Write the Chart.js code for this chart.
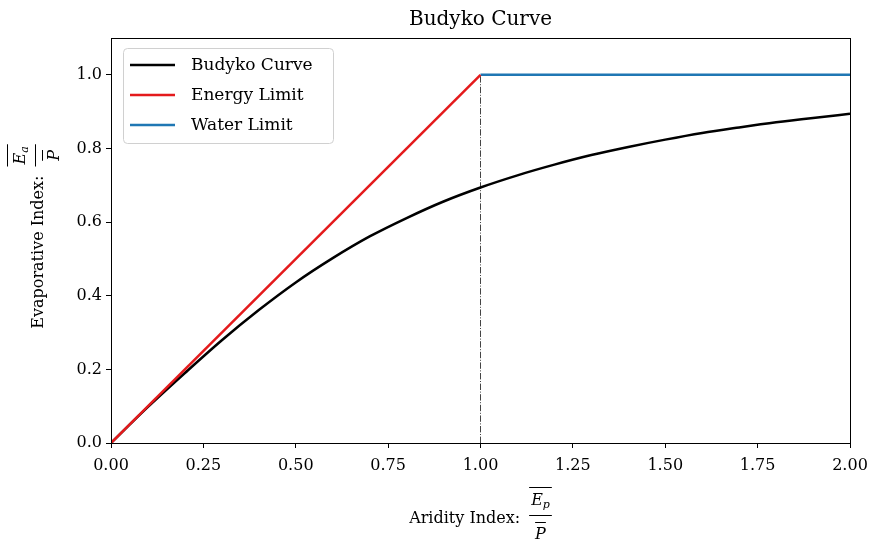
<!DOCTYPE html>
<html>
<head>
<meta charset="utf-8">
<script src="https://cdn.jsdelivr.net/npm/chart.js@4/dist/chart.umd.min.js"></script>
<style>
  body { margin: 0; background: #fff; }
  #wrap { width: 871px; height: 542px; }
</style>
</head>
<body>
<div id="wrap"><canvas id="chart" width="871" height="542"></canvas></div>
<script>
'use strict';
// aridity index (Ep/P) and the evaporative index (Ea/P) of the Budyko curve
let aridity = [0, 0.1, 0.2, 0.3, 0.4, 0.5, 0.6, 0.7, 0.8, 0.9, 1.0, 1.1, 1.2, 1.3, 1.4, 1.5, 1.6, 1.7, 1.8, 1.9, 2.0];
let budyko = [0, 0.098, 0.190, 0.279, 0.361, 0.436, 0.502, 0.561, 0.611, 0.656, 0.694, 0.727, 0.756, 0.782, 0.804, 0.824, 0.842, 0.857, 0.871, 0.883, 0.894];
let energyX = [0, 1];
let energyY = [0, 1];
let waterX = [1, 2];
let waterY = [1, 1];
let splitX = [1, 1];
let splitY = [0, 1];
let xTicks = [0, 0.25, 0.5, 0.75, 1.0, 1.25, 1.5, 1.75, 2.0];
let yTicks = [0, 0.2, 0.4, 0.6, 0.8, 1.0];

const serif = '"DejaVu Serif", serif';

function pts(xs, ys) {
  return xs.map((x, i) => ({ x: x, y: ys[i] }));
}

// label text followed by an overlined fraction, centred on cx with the text baseline at 0
function drawFracLabel(ctx, text, sub, cx) {
  ctx.font = '16px ' + serif;
  let tw = ctx.measureText(text).width;
  ctx.font = 'italic 16px ' + serif;
  let ew = ctx.measureText('E').width;
  ctx.font = 'italic 11px ' + serif;
  let sw = ctx.measureText(sub).width;
  let fw = ew + sw + 4;
  let gap = 9;
  let total = tw + gap + fw;
  let x0 = cx - total / 2;
  ctx.fillStyle = '#000';
  ctx.strokeStyle = '#000';
  ctx.textAlign = 'left';
  ctx.textBaseline = 'alphabetic';
  ctx.font = '16px ' + serif;
  ctx.fillText(text, x0, 0);
  let fx = x0 + tw + gap;
  let bar = -8;
  ctx.lineWidth = 1;
  // fraction bar
  ctx.beginPath();
  ctx.moveTo(fx, bar + 0.5);
  ctx.lineTo(fx + fw, bar + 0.5);
  ctx.stroke();
  // numerator with overline
  ctx.beginPath();
  ctx.moveTo(fx, bar - 27.5);
  ctx.lineTo(fx + fw, bar - 27.5);
  ctx.stroke();
  ctx.font = 'italic 16px ' + serif;
  ctx.fillText('E', fx + 2, bar - 10);
  ctx.font = 'italic 11px ' + serif;
  ctx.fillText(sub, fx + 2 + ew, bar - 7);
  // denominator with overline
  ctx.font = 'italic 16px ' + serif;
  let pw = ctx.measureText('P').width;
  let px = fx + fw / 2 - pw / 2;
  ctx.beginPath();
  ctx.moveTo(px, bar + 7.5);
  ctx.lineTo(px + pw, bar + 7.5);
  ctx.stroke();
  ctx.fillText('P', px, bar + 24);
}

const decor = {
  id: 'decor',
  afterDraw(chart) {
    const ctx = chart.ctx;
    const a = chart.chartArea;
    ctx.save();
    // axes frame
    ctx.strokeStyle = '#000';
    ctx.lineWidth = 1;
    ctx.strokeRect(Math.round(a.left) + 0.5, Math.round(a.top) + 0.5, Math.round(a.right - a.left), Math.round(a.bottom - a.top));
    // title
    ctx.fillStyle = '#000';
    ctx.font = '20px ' + serif;
    ctx.textAlign = 'center';
    ctx.textBaseline = 'alphabetic';
    ctx.fillText('Budyko Curve', (a.left + a.right) / 2, 25);
    // x axis label
    ctx.save();
    ctx.translate(0, 523);
    drawFracLabel(ctx, 'Aridity Index:', 'p', (a.left + a.right) / 2);
    ctx.restore();
    // y axis label
    ctx.save();
    ctx.translate(43, (a.top + a.bottom) / 2 - 4);
    ctx.rotate(-Math.PI / 2);
    drawFracLabel(ctx, 'Evaporative Index:', 'a', 0);
    ctx.restore();
    // legend
    let lx = a.left + 12, ly = a.top + 10, lw = 210, lh = 95;
    ctx.beginPath();
    ctx.roundRect(lx + 0.5, ly + 0.5, lw, lh, 4);
    ctx.fillStyle = 'rgba(255,255,255,0.8)';
    ctx.fill();
    ctx.strokeStyle = '#d0d0d0';
    ctx.stroke();
    let items = chart.data.datasets.filter(d => d.label);
    items.forEach((d, i) => {
      let y = ly + 17 + i * 30;
      ctx.strokeStyle = d.borderColor;
      ctx.lineWidth = 2.5;
      ctx.beginPath();
      ctx.moveTo(lx + 7, y);
      ctx.lineTo(lx + 52, y);
      ctx.stroke();
      ctx.fillStyle = '#000';
      ctx.font = '17px ' + serif;
      ctx.textAlign = 'left';
      ctx.textBaseline = 'middle';
      ctx.fillText(d.label, lx + 68, y + 1);
    });
    ctx.restore();
  }
};

const tickGrid = {
  display: true,
  drawOnChartArea: false,
  drawTicks: true,
  tickLength: 5,
  tickColor: '#000',
  tickWidth: 1
};

new Chart(document.getElementById('chart').getContext('2d'), {
  type: 'line',
  data: {
    datasets: [{
      label: 'Budyko Curve',
      data: pts(aridity, budyko),
      borderColor: '#000000',
      borderWidth: 2.5,
      cubicInterpolationMode: 'monotone',
      pointRadius: 0,
      order: 3
    }, {
      label: 'Energy Limit',
      data: pts(energyX, energyY),
      borderColor: '#e41a1c',
      borderWidth: 2.5,
      pointRadius: 0,
      order: 1
    }, {
      label: 'Water Limit',
      data: pts(waterX, waterY),
      borderColor: '#1f77b4',
      borderWidth: 2.5,
      pointRadius: 0,
      order: 2
    }, {
      label: '',
      data: pts(splitX, splitY),
      borderColor: '#444444',
      borderWidth: 1,
      borderDash: [6.4, 1.6, 1, 1.6],
      pointRadius: 0,
      order: 4
    }]
  },
  options: {
    responsive: false,
    animation: false,
    layout: { padding: { top: 38, right: 21, left: 0, bottom: 0 } },
    plugins: {
      legend: { display: false },
      title: { display: false },
      tooltip: { enabled: false }
    },
    scales: {
      x: {
        type: 'linear',
        min: 0,
        max: 2,
        border: { display: false },
        grid: tickGrid,
        afterBuildTicks: s => { s.ticks = xTicks.map(v => ({ value: v })); },
        afterFit: s => { s.height = 99; s.paddingLeft = 0; s.paddingRight = 0; },
        ticks: {
          color: '#000',
          padding: 8,
          maxRotation: 0,
          font: { family: serif, size: 16 },
          callback: v => v.toFixed(2)
        }
      },
      y: {
        type: 'linear',
        min: 0,
        max: 1.1,
        border: { display: false },
        grid: tickGrid,
        afterBuildTicks: s => { s.ticks = yTicks.map(v => ({ value: v })); },
        afterFit: s => { s.width = 111; },
        ticks: {
          color: '#000',
          padding: 4,
          font: { family: serif, size: 16 },
          callback: v => v.toFixed(1)
        }
      }
    }
  },
  plugins: [decor]
});
</script>
</body>
</html>
